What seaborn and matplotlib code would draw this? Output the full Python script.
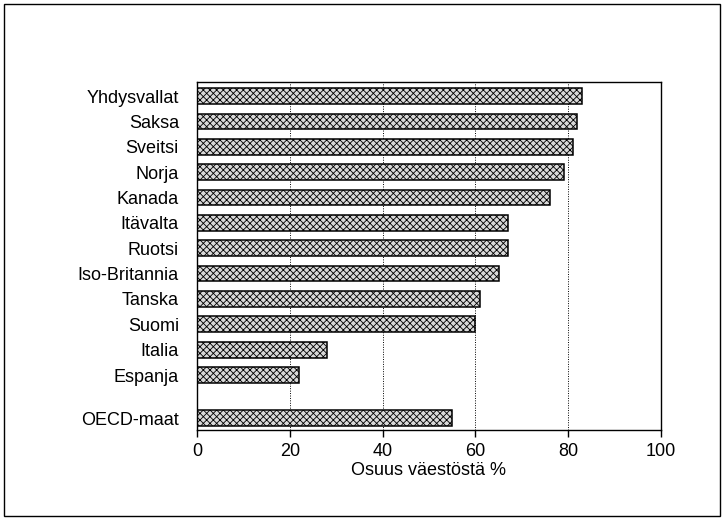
import matplotlib
matplotlib.use("Agg")
import matplotlib.pyplot as plt
import numpy as np
import seaborn as sns
from matplotlib.patches import Rectangle

# =========================================================
# Data
# =========================================================

countries = [
    "Yhdysvallat", "Saksa", "Sveitsi", "Norja", "Kanada", "Itävalta",
    "Ruotsi", "Iso-Britannia", "Tanska", "Suomi", "Italia", "Espanja",
    "OECD-maat",
]
shares = [83, 82, 81, 79, 76, 67, 67, 65, 61, 60, 28, 22, 55]

x_ticks = [0, 20, 40, 60, 80, 100]
x_label = "Osuus väestöstä %"

# =========================================================
# Style
# =========================================================

sns.set_style("white")
plt.rcParams["font.family"] = ["Liberation Sans", "DejaVu Sans"]
plt.rcParams["text.color"] = "black"
plt.rcParams["axes.labelcolor"] = "black"
plt.rcParams["xtick.color"] = "black"
plt.rcParams["ytick.color"] = "black"
plt.rcParams["hatch.linewidth"] = 0.6
plt.rcParams["hatch.color"] = "#444444"

FS = 13

# last bar (OECD) sits a bit lower than the others
pos = np.arange(len(countries), dtype=float)
pos[-1] += 0.7

fig = plt.figure(figsize=(7.24, 5.2), dpi=100)
ax = fig.add_axes([0.272, 0.173, 0.641, 0.669])

sns.barplot(
    x=shares,
    y=pos,
    orient="h",
    native_scale=True,
    color="#d9d9d9",
    edgecolor="black",
    linewidth=1.1,
    width=0.62,
    ax=ax,
)

for p in ax.patches:
    p.set_hatch("xxxxx")

for v in x_ticks[1:-1]:
    ax.axvline(v, color="black", linestyle=(0, (1, 1.5)), linewidth=0.7, zorder=0)

ax.set_xlim(0, 100)
ax.set_ylim(pos[-1] + 0.47, -0.55)
ax.set_xticks(x_ticks)
ax.set_xticklabels([str(t) for t in x_ticks], fontsize=FS)
ax.set_yticks(pos)
ax.set_yticklabels(countries, fontsize=FS)
ax.set_xlabel(x_label, fontsize=FS, labelpad=2)
ax.set_ylabel("")

ax.tick_params(axis="x", direction="out", length=5, width=1, bottom=True, pad=4)
ax.tick_params(axis="y", length=0, pad=13)

for s in ax.spines.values():
    s.set_color("black")
    s.set_linewidth(1)

# frame round the whole figure
fig.patches.append(
    Rectangle((0.005, 0.008), 0.99, 0.985, transform=fig.transFigure,
              fill=False, edgecolor="black", linewidth=1)
)

plt.savefig("out.png", dpi=100)
